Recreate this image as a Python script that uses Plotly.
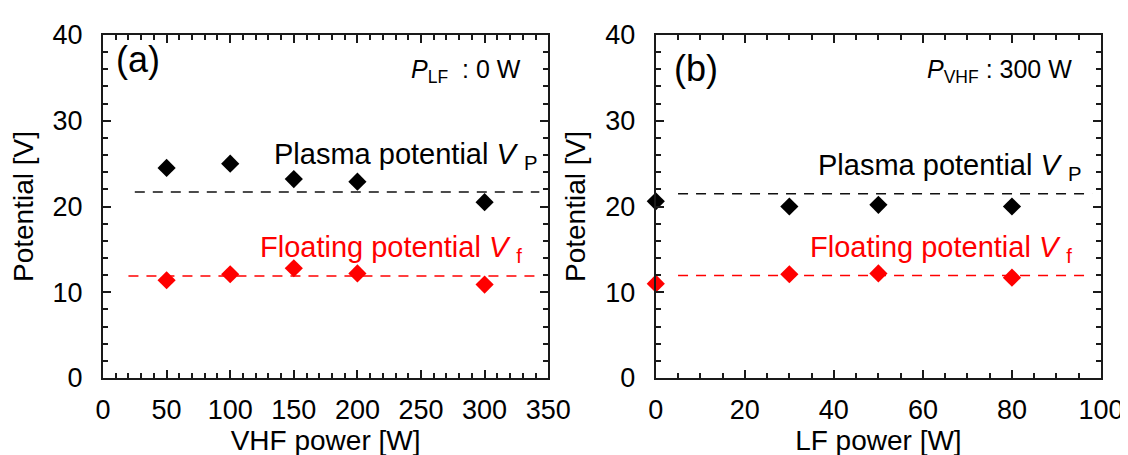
import plotly.graph_objects as go

# ---------------- data ----------------
vhf_power = [50, 100, 150, 200, 300]
vhf_vp = [24.5, 25.0, 23.2, 22.9, 20.5]
vhf_vf = [11.4, 12.1, 12.8, 12.2, 10.9]
vhf_vp_line_x = [25, 343]
vhf_vp_line_y = [21.7, 21.7]
vhf_vf_line_x = [20, 340]
vhf_vf_line_y = [11.9, 11.9]

lf_power = [0, 30, 50, 80]
lf_vp = [20.6, 20.0, 20.2, 20.0]
lf_vf = [11.0, 12.1, 12.2, 11.7]
lf_vp_line_x = [5, 98]
lf_vp_line_y = [21.5, 21.5]
lf_vf_line_x = [5, 97]
lf_vf_line_y = [11.95, 11.95]

y_ticks = [0, 10, 20, 30, 40]
x1_ticks = [0, 50, 100, 150, 200, 250, 300, 350]
x2_ticks = [0, 20, 40, 60, 80, 100]

# ---------------- layout geometry ----------------
W, H = 1128, 455
ML, MR, MT, MB = 95, 31, 27, 77
PW = W - ML - MR
PH = H - MT - MB
FONT = "Liberation Sans, Arial, sans-serif"
RED = "#ff0000"
AX = "#1a1a1a"


def paper(xp, yp):
    return (xp - ML) / PW, (H - MB - yp) / PH


fig = go.Figure()

for (xa, ya, xs, vp, vf, vpl, vfl) in [
    ("x", "y", vhf_power, vhf_vp, vhf_vf,
     (vhf_vp_line_x, vhf_vp_line_y), (vhf_vf_line_x, vhf_vf_line_y)),
    ("x2", "y2", lf_power, lf_vp, lf_vf,
     (lf_vp_line_x, lf_vp_line_y), (lf_vf_line_x, lf_vf_line_y)),
]:
    fig.add_trace(go.Scatter(x=vpl[0], y=vpl[1], mode="lines", xaxis=xa, yaxis=ya,
                             line=dict(color="#111111", width=1.5, dash="10px,8px"),
                             showlegend=False, cliponaxis=False))
    fig.add_trace(go.Scatter(x=vfl[0], y=vfl[1], mode="lines", xaxis=xa, yaxis=ya,
                             line=dict(color=RED, width=1.5, dash="10px,8px"),
                             showlegend=False, cliponaxis=False))
    fig.add_trace(go.Scatter(x=xs, y=vp, mode="markers", xaxis=xa, yaxis=ya,
                             marker=dict(symbol="diamond", size=14, color="black"),
                             showlegend=False, cliponaxis=False))
    fig.add_trace(go.Scatter(x=xs, y=vf, mode="markers", xaxis=xa, yaxis=ya,
                             marker=dict(symbol="diamond", size=14, color=RED),
                             showlegend=False, cliponaxis=False))

base = dict(
    showline=True, linewidth=2, linecolor=AX, mirror="allticks",
    ticks="inside", ticklen=8, tickwidth=2, tickcolor=AX,
    showgrid=False, zeroline=False,
    tickfont=dict(family=FONT, size=27, color="black"),
    title_font=dict(family=FONT, size=28, color="black"),
)


def minor(d):
    return dict(dtick=d, ticks="inside", ticklen=5, tickwidth=1.5, tickcolor=AX, showgrid=False)


d1 = (542 - ML) / PW
d2 = (650 - ML) / PW

fig.update_layout(
    width=W, height=H,
    margin=dict(l=ML, r=MR, t=MT, b=MB),
    plot_bgcolor="white", paper_bgcolor="white",
    xaxis=dict(base, domain=[0, d1], range=[0, 350], tickvals=x1_ticks, minor=minor(10),
               title=dict(text="VHF power [W]", standoff=6), ticklabelstandoff=7, anchor="y"),
    yaxis=dict(base, domain=[0, 1], range=[0, 40], tickvals=y_ticks, minor=minor(2),
               title=dict(text="Potential [V]", standoff=12), ticklabelstandoff=13, anchor="x"),
    xaxis2=dict(base, domain=[d2, 1], range=[0, 100], tickvals=x2_ticks, minor=minor(5),
                title=dict(text="LF power [W]", standoff=6), ticklabelstandoff=7, anchor="y2"),
    yaxis2=dict(base, domain=[0, 1], range=[0, 40], tickvals=y_ticks, minor=minor(2),
                title=dict(text="Potential [V]", standoff=12), ticklabelstandoff=13, anchor="x2"),
)


def note(text, xp, yp, size, color="black", xanchor="center", yanchor="middle", family=FONT):
    x, y = paper(xp, yp)
    fig.add_annotation(text=text, x=x, y=y, xref="paper", yref="paper",
                       xanchor=xanchor, yanchor=yanchor, showarrow=False,
                       font=dict(family=family, size=size, color=color))


note("(a)", 130, 52, 36)
note("(b)", 690, 61, 36)
note("<i>P</i><sub>LF</sub>  : 0 W", 517, 64, 25, xanchor="right")
note("<i>P</i><sub>VHF</sub> : 300 W", 1070, 64, 25, xanchor="right")
note("Plasma potential <i>V</i> <sub>P</sub>", 533, 151, 29, xanchor="right")
note("Plasma potential <i>V</i> <sub>P</sub>", 1079, 162, 29, xanchor="right")
note("Floating potential <i>V</i> <sub>f</sub>", 518, 246, 29, color=RED, xanchor="right")
note("Floating potential <i>V</i> <sub>f</sub>", 1070, 246, 29, color=RED, xanchor="right")

fig.write_html("out.html")
